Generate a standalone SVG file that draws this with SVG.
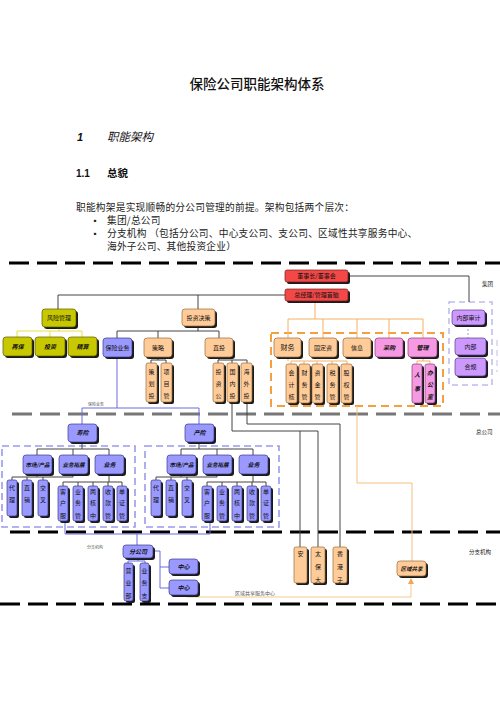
<svg xmlns="http://www.w3.org/2000/svg" width="500" height="708" viewBox="0 0 500 708">
<defs>
<marker id="arr" markerWidth="6" markerHeight="6" refX="5" refY="3" orient="auto" markerUnits="userSpaceOnUse">
<path d="M0,0 L6,3 L0,6 z" fill="#F0A850"/>
</marker>
</defs>
<style>
text{font-family:"Noto Sans CJK SC","Liberation Sans",sans-serif;fill:#111}
.body{font-size:9.7px;letter-spacing:0.25px;fill:#222}
.t{font-size:6px;text-anchor:middle}
.ti{font-size:6px;text-anchor:middle;font-style:italic;font-weight:bold}
.v{font-size:6px;text-anchor:middle}
.vi{font-size:6px;text-anchor:middle;font-style:italic;font-weight:bold}
.tiny{font-size:4px;fill:#555}
.side{font-size:5.5px;fill:#222}
.sh{fill:#1a1a1a}
.red{fill:#F24848;stroke:#7a1a1a;stroke-width:0.7}
.olv{fill:#C8C800;stroke:#5a5a00;stroke-width:0.7}
.pch{fill:#FFCC99;stroke:#9a6a3a;stroke-width:0.7}
.pur{fill:#9999FF;stroke:#3a3a8a;stroke-width:0.7}
.pnk{fill:#F59AE2;stroke:#8a3a7a;stroke-width:0.7}
.lav{fill:#CC99FF;stroke:#5a3a8a;stroke-width:0.7}
.sepB{stroke:#000;stroke-width:3;stroke-dasharray:20 8;fill:none}
.sepG{stroke:#777;stroke-width:3;stroke-dasharray:20 8;fill:none}
.c{stroke:#444;stroke-width:1;fill:none}
.cy{stroke:#E6E040;stroke-width:1;fill:none}
.co{stroke:#F5B060;stroke-width:1;fill:none}
.cp{stroke:#6A6AE0;stroke-width:1;fill:none}
.dbP{stroke:#9A9AEE;stroke-width:1.6;stroke-dasharray:7 4;fill:none}
.dbO{stroke:#F5A040;stroke-width:2;stroke-dasharray:8 5;fill:none}
.dbL{stroke:#BDBDF0;stroke-width:1.6;stroke-dasharray:6 4;fill:none}
</style>

<g id="header">
<text x="257" y="89" style="font-size:13.5px;text-anchor:middle;font-weight:500">保险公司职能架构体系</text>
<text x="77" y="141" style="font-family:'Liberation Sans',sans-serif;font-size:11px;font-weight:bold;font-style:italic">1</text>
<text x="107" y="141" style="font-size:11.5px;font-style:italic">职能架构</text>
<text x="76" y="177" style="font-family:'Liberation Sans',sans-serif;font-size:10px;font-weight:bold">1.1</text>
<text x="107" y="177" style="font-size:10.5px;font-weight:bold">总貌</text>
<text x="76" y="210.5" class="body">职能构架是实现顺畅的分公司管理的前提。架构包括两个层次：</text>
<text x="91" y="224" class="body" style="font-size:8px">▪</text>
<text x="107" y="224" class="body">集团/总公司</text>
<text x="91" y="237" class="body" style="font-size:8px">▪</text>
<text x="107" y="237" class="body">分支机构 （包括分公司、中心支公司、支公司、区域性共享服务中心、</text>
<text x="107" y="250" class="body">海外子公司、其他投资企业）</text>
</g>

<g id="separators">
<line x1="9" y1="263" x2="500" y2="263" class="sepB"/>
<line x1="12" y1="414" x2="500" y2="414" class="sepG"/>
<line x1="10" y1="532" x2="500" y2="532" class="sepB"/>
<line x1="0" y1="604" x2="500" y2="604" class="sepB"/>
<text x="482" y="286" class="side">集团</text>
<text x="476" y="434" class="side">总公司</text>
<text x="469" y="554" class="side">分支机构</text>
</g>

<g id="containers">
<rect x="271" y="333" width="172" height="73" class="dbO"/>
<rect x="449" y="302" width="43" height="83" class="dbL"/>
<line x1="497" y1="340" x2="497" y2="372" class="dbL" style="stroke-width:1"/>
<rect x="2" y="446" width="133" height="81" class="dbP"/>
<rect x="145" y="446" width="134" height="81" class="dbP"/>
</g>

<g id="connectors">
<polyline points="348,276 469,276 469,302" class="c"/>
<polyline points="285,295 58,295 58,309" class="c"/>
<line x1="198" y1="295" x2="198" y2="309" class="c"/>
<polyline points="59,327 59,331" class="cy"/>
<polyline points="17,331 82,331" class="cy"/>
<line x1="17" y1="331" x2="17" y2="337" class="cy"/>
<line x1="50" y1="331" x2="50" y2="337" class="cy"/>
<line x1="82" y1="331" x2="82" y2="337" class="cy"/>
<line x1="198" y1="326" x2="198" y2="331" class="c"/>
<line x1="117" y1="331" x2="219" y2="331" class="c"/>
<line x1="117" y1="331" x2="117" y2="338" class="c"/>
<line x1="158" y1="331" x2="158" y2="338" class="c"/>
<line x1="219" y1="331" x2="219" y2="338" class="c"/>
<line x1="158" y1="357" x2="158" y2="360" class="c"/>
<line x1="151" y1="360" x2="166" y2="360" class="c"/>
<line x1="151" y1="360" x2="151" y2="363" class="c"/>
<line x1="166" y1="360" x2="166" y2="363" class="c"/>
<line x1="219" y1="357" x2="219" y2="360" class="c"/>
<line x1="218" y1="360" x2="247" y2="360" class="c"/>
<line x1="218" y1="360" x2="218" y2="363" class="c"/>
<line x1="232" y1="360" x2="232" y2="363" class="c"/>
<line x1="247" y1="360" x2="247" y2="363" class="c"/>
<polyline points="232,402 232,431 318,431 318,547" class="c"/>
<line x1="300" y1="431" x2="300" y2="547" class="c"/>
<polyline points="247,402 247,424 340,424 340,547" class="c"/>
<line x1="315" y1="301" x2="315" y2="319" class="co"/>
<line x1="288" y1="319" x2="423" y2="319" class="co"/>
<line x1="288" y1="319" x2="288" y2="338" class="co"/>
<line x1="323" y1="319" x2="323" y2="338" class="co"/>
<line x1="357" y1="319" x2="357" y2="338" class="co"/>
<line x1="389" y1="319" x2="389" y2="338" class="co"/>
<line x1="423" y1="319" x2="423" y2="338" class="co"/>
<line x1="288" y1="357" x2="288" y2="361" class="co"/>
<line x1="291" y1="361" x2="347" y2="361" class="co"/>
<line x1="291" y1="361" x2="291" y2="364" class="co"/>
<line x1="304" y1="361" x2="304" y2="364" class="co"/>
<line x1="317" y1="361" x2="317" y2="364" class="co"/>
<line x1="332" y1="361" x2="332" y2="364" class="co"/>
<line x1="347" y1="361" x2="347" y2="364" class="co"/>
<line x1="423" y1="357" x2="423" y2="361" class="co"/>
<line x1="417" y1="361" x2="430" y2="361" class="co"/>
<line x1="417" y1="361" x2="417" y2="364" class="co"/>
<line x1="430" y1="361" x2="430" y2="364" class="co"/>
<line x1="468" y1="325" x2="468" y2="338" class="dbP" style="stroke-width:1;stroke-dasharray:2 2"/>
<polyline points="357,406 357,483 412,483 412,561" class="co" style="stroke:#F5C080"/>
<polyline points="187,597 411,597 411,579" class="co" style="stroke:#F5C890" marker-end="url(#arr)"/>
<line x1="117" y1="357" x2="117" y2="408" class="cp"/>
<line x1="82" y1="408" x2="199" y2="408" class="cp"/>
<line x1="82" y1="408" x2="82" y2="424" class="cp"/>
<line x1="199" y1="408" x2="199" y2="424" class="cp"/>
<line x1="82" y1="442" x2="82" y2="449" class="c"/>
<line x1="37" y1="449" x2="109" y2="449" class="c"/>
<line x1="37" y1="449" x2="37" y2="455" class="c"/>
<line x1="73" y1="449" x2="73" y2="455" class="c"/>
<line x1="109" y1="449" x2="109" y2="455" class="c"/>
<line x1="37" y1="474" x2="37" y2="477" class="c"/>
<line x1="12" y1="477" x2="73" y2="477" class="c"/>
<line x1="73" y1="474" x2="73" y2="477" class="c"/>
<line x1="12" y1="477" x2="12" y2="480" class="c"/>
<line x1="27" y1="477" x2="27" y2="480" class="c"/>
<line x1="43" y1="477" x2="43" y2="480" class="c"/>
<line x1="109" y1="474" x2="109" y2="482" class="c"/>
<line x1="63" y1="482" x2="122" y2="482" class="c"/>
<line x1="63" y1="482" x2="63" y2="486" class="c"/>
<line x1="78" y1="482" x2="78" y2="486" class="c"/>
<line x1="93" y1="482" x2="93" y2="486" class="c"/>
<line x1="108" y1="482" x2="108" y2="486" class="c"/>
<line x1="122" y1="482" x2="122" y2="486" class="c"/>
<line x1="199" y1="442" x2="199" y2="449" class="c"/>
<line x1="181" y1="449" x2="253" y2="449" class="c"/>
<line x1="181" y1="449" x2="181" y2="455" class="c"/>
<line x1="217" y1="449" x2="217" y2="455" class="c"/>
<line x1="253" y1="449" x2="253" y2="455" class="c"/>
<line x1="181" y1="474" x2="181" y2="477" class="c"/>
<line x1="156" y1="477" x2="217" y2="477" class="c"/>
<line x1="217" y1="474" x2="217" y2="477" class="c"/>
<line x1="156" y1="477" x2="156" y2="480" class="c"/>
<line x1="171" y1="477" x2="171" y2="480" class="c"/>
<line x1="187" y1="477" x2="187" y2="480" class="c"/>
<line x1="253" y1="474" x2="253" y2="482" class="c"/>
<line x1="207" y1="482" x2="266" y2="482" class="c"/>
<line x1="207" y1="482" x2="207" y2="486" class="c"/>
<line x1="222" y1="482" x2="222" y2="486" class="c"/>
<line x1="237" y1="482" x2="237" y2="486" class="c"/>
<line x1="252" y1="482" x2="252" y2="486" class="c"/>
<line x1="266" y1="482" x2="266" y2="486" class="c"/>
<polyline points="65,521 65,534 210,534 210,521" class="cp"/>
<line x1="137" y1="534" x2="137" y2="545" class="cp"/>
<line x1="138" y1="558" x2="138" y2="561" class="cp"/>
<line x1="128" y1="561" x2="145" y2="561" class="cp"/>
<line x1="128" y1="561" x2="128" y2="563" class="cp"/>
<line x1="145" y1="561" x2="145" y2="563" class="cp"/>
<polyline points="153,551 160,551 160,588 169,588" class="cp"/>
<line x1="160" y1="567" x2="169" y2="567" class="cp"/>
<text x="88" y="406" class="tiny">保险业务</text>
<text x="87" y="549" class="tiny">分支机构</text>
<text x="235" y="594.5" class="tiny" style="font-size:5px">区域共享服务中心</text>
</g>

<g id="n-dsh"><rect class="sh" x="287" y="272" width="63" height="12" rx="2"/><rect class="red" x="285" y="270" width="63" height="12" rx="2"/><text class="t" x="316.5" y="278.2">董事长/董事会</text></g>
<g id="n-zjl"><rect class="sh" x="287" y="291" width="63" height="12" rx="2"/><rect class="red" x="285" y="289" width="63" height="12" rx="2"/><text class="t" x="316.5" y="297.2">总经理/管理首脑</text></g>

<g id="n-fxgl"><rect class="sh" x="44" y="311" width="34" height="18" rx="3"/><rect class="olv" x="42" y="309" width="34" height="18" rx="3"/><text class="t" x="59" y="320.2">风险管理</text></g>
<g id="n-zb"><rect class="sh" x="5" y="339" width="29" height="19" rx="3"/><rect class="olv" x="3" y="337" width="29" height="19" rx="3"/><text class="ti" x="17.5" y="348.7">再保</text></g>
<g id="n-tz"><rect class="sh" x="37" y="339" width="30" height="19" rx="3"/><rect class="olv" x="35" y="337" width="30" height="19" rx="3"/><text class="ti" x="50" y="348.7">投资</text></g>
<g id="n-js"><rect class="sh" x="70" y="339" width="29" height="19" rx="3"/><rect class="olv" x="68" y="337" width="29" height="19" rx="3"/><text class="ti" x="82.5" y="348.7">精算</text></g>

<g id="n-tzjc"><rect class="sh" x="184" y="311" width="33" height="17" rx="3"/><rect class="pch" x="182" y="309" width="33" height="17" rx="3"/><text class="t" x="198.5" y="319.7">投资决策</text></g>
<g id="n-bxyw"><rect class="sh" x="105" y="340" width="29" height="19" rx="3"/><rect class="pur" x="103" y="338" width="29" height="19" rx="3"/><text class="t" x="117.5" y="349.7">保险业务</text></g>
<g id="n-cl"><rect class="sh" x="146" y="340" width="28" height="19" rx="3"/><rect class="pch" x="144" y="338" width="28" height="19" rx="3"/><text class="t" x="158" y="349.7">策略</text></g>
<g id="n-zt"><rect class="sh" x="207" y="340" width="28" height="19" rx="3"/><rect class="pch" x="205" y="338" width="28" height="19" rx="3"/><text class="t" x="219" y="349.7">直投</text></g>

<g id="n-chtz"><rect class="sh" x="148" y="365" width="11" height="39" rx="2"/><rect class="pch" x="146" y="363" width="11" height="39" rx="2"/><text class="v" x="151.5" y="374">策</text><text class="v" x="151.5" y="386">划</text><text class="v" x="151.5" y="398">投</text></g>
<g id="n-xmg"><rect class="sh" x="163" y="365" width="11" height="39" rx="2"/><rect class="pch" x="161" y="363" width="11" height="39" rx="2"/><text class="v" x="166.5" y="374">项</text><text class="v" x="166.5" y="386">目</text><text class="v" x="166.5" y="398">管</text></g>
<g id="n-tzg"><rect class="sh" x="215" y="365" width="11" height="39" rx="2"/><rect class="pch" x="213" y="363" width="11" height="39" rx="2"/><text class="v" x="218.5" y="374">投</text><text class="v" x="218.5" y="386">资</text><text class="v" x="218.5" y="398">公</text></g>
<g id="n-gnt"><rect class="sh" x="229" y="365" width="11" height="39" rx="2"/><rect class="pch" x="227" y="363" width="11" height="39" rx="2"/><text class="v" x="232.5" y="374">国</text><text class="v" x="232.5" y="386">内</text><text class="v" x="232.5" y="398">投</text></g>
<g id="n-hwt"><rect class="sh" x="243" y="365" width="11" height="39" rx="2"/><rect class="pch" x="241" y="363" width="11" height="39" rx="2"/><text class="v" x="246.5" y="374">海</text><text class="v" x="246.5" y="386">外</text><text class="v" x="246.5" y="398">投</text></g>

<g id="n-cw"><rect class="sh" x="276" y="340" width="27" height="19" rx="3"/><rect class="pch" x="274" y="338" width="27" height="19" rx="3"/><text class="t" x="287.5" y="350" style="font-size:7px">财务</text></g>
<g id="n-gdz"><rect class="sh" x="311" y="340" width="28" height="19" rx="3"/><rect class="pch" x="309" y="338" width="28" height="19" rx="3"/><text class="t" x="323" y="349.7">固定资</text></g>
<g id="n-xx"><rect class="sh" x="345" y="340" width="28" height="19" rx="3"/><rect class="pch" x="343" y="338" width="28" height="19" rx="3"/><text class="t" x="357" y="349.7">信息</text></g>
<g id="n-cg"><rect class="sh" x="377" y="340" width="28" height="19" rx="3"/><rect class="pnk" x="375" y="338" width="28" height="19" rx="3"/><text class="ti" x="389" y="349.7">采购</text></g>
<g id="n-gl"><rect class="sh" x="410" y="340" width="29" height="19" rx="3"/><rect class="pnk" x="408" y="338" width="29" height="19" rx="3"/><text class="ti" x="422.5" y="349.7">管理</text></g>

<g id="n-kjh"><rect class="sh" x="288" y="366" width="11" height="39" rx="2"/><rect class="pch" x="286" y="364" width="11" height="39" rx="2"/><text class="v" x="291.5" y="375">会</text><text class="v" x="291.5" y="387">计</text><text class="v" x="291.5" y="399">核</text></g>
<g id="n-cwg"><rect class="sh" x="301" y="366" width="11" height="39" rx="2"/><rect class="pch" x="299" y="364" width="11" height="39" rx="2"/><text class="v" x="304.5" y="375">财</text><text class="v" x="304.5" y="387">务</text><text class="v" x="304.5" y="399">管</text></g>
<g id="n-zjg"><rect class="sh" x="314" y="366" width="11" height="39" rx="2"/><rect class="pch" x="312" y="364" width="11" height="39" rx="2"/><text class="v" x="317.5" y="375">资</text><text class="v" x="317.5" y="387">金</text><text class="v" x="317.5" y="399">管</text></g>
<g id="n-swg"><rect class="sh" x="329" y="366" width="11" height="39" rx="2"/><rect class="pch" x="327" y="364" width="11" height="39" rx="2"/><text class="v" x="332.5" y="375">税</text><text class="v" x="332.5" y="387">务</text><text class="v" x="332.5" y="399">管</text></g>
<g id="n-gqg"><rect class="sh" x="343" y="366" width="11" height="39" rx="2"/><rect class="pch" x="341" y="364" width="11" height="39" rx="2"/><text class="v" x="346.5" y="375">股</text><text class="v" x="346.5" y="387">权</text><text class="v" x="346.5" y="399">管</text></g>
<g id="n-rs"><rect class="sh" x="414" y="366" width="10" height="39" rx="2"/><rect class="pnk" x="412" y="364" width="10" height="39" rx="2"/><text class="vi" x="417" y="377">人</text><text class="vi" x="417" y="391">事</text></g>
<g id="n-bgs"><rect class="sh" x="427" y="366" width="10" height="39" rx="2"/><rect class="pnk" x="425" y="364" width="10" height="39" rx="2"/><text class="vi" x="430" y="375">办</text><text class="vi" x="430" y="387">公</text><text class="vi" x="430" y="399">室</text></g>

<g id="n-nbsj"><rect class="sh" x="454" y="312" width="33" height="15" rx="3"/><rect class="lav" x="452" y="310" width="33" height="15" rx="3"/><text class="t" x="468.5" y="319.7">内部审计</text></g>
<g id="n-nb"><rect class="sh" x="457" y="340" width="31" height="17" rx="3"/><rect class="lav" x="455" y="338" width="31" height="17" rx="3"/><text class="t" x="470.5" y="348.7">内部</text></g>
<g id="n-hg"><rect class="sh" x="457" y="360" width="31" height="18" rx="3"/><rect class="lav" x="455" y="358" width="31" height="18" rx="3"/><text class="t" x="470.5" y="369.2">合规</text></g>

<g id="n-sx"><rect class="sh" x="70" y="426" width="29" height="18" rx="3"/><rect class="pur" x="68" y="424" width="29" height="18" rx="3"/><text class="ti" x="82.5" y="435.2">寿险</text></g>
<g id="n-cx"><rect class="sh" x="187" y="426" width="29" height="18" rx="3"/><rect class="pur" x="185" y="424" width="29" height="18" rx="3"/><text class="ti" x="199.5" y="435.2">产险</text></g>

<g id="n-sc1"><rect class="sh" x="25" y="457" width="29" height="19" rx="3"/><rect class="pur" x="23" y="455" width="29" height="19" rx="3"/><text class="ti" x="37.5" y="466.7" style="font-size:5.5px">市场/产品</text></g>
<g id="n-tk1"><rect class="sh" x="61" y="457" width="29" height="19" rx="3"/><rect class="pur" x="59" y="455" width="29" height="19" rx="3"/><text class="ti" x="73.5" y="466.7" style="font-size:5.5px">业务拓展</text></g>
<g id="n-yw1"><rect class="sh" x="97" y="457" width="29" height="19" rx="3"/><rect class="pur" x="95" y="455" width="29" height="19" rx="3"/><text class="ti" x="109.5" y="466.7">业务</text></g>
<g id="n-sc2"><rect class="sh" x="169" y="457" width="29" height="19" rx="3"/><rect class="pur" x="167" y="455" width="29" height="19" rx="3"/><text class="ti" x="181.5" y="466.7" style="font-size:5.5px">市场/产品</text></g>
<g id="n-tk2"><rect class="sh" x="205" y="457" width="29" height="19" rx="3"/><rect class="pur" x="203" y="455" width="29" height="19" rx="3"/><text class="ti" x="217.5" y="466.7" style="font-size:5.5px">业务拓展</text></g>
<g id="n-yw2"><rect class="sh" x="241" y="457" width="29" height="19" rx="3"/><rect class="pur" x="239" y="455" width="29" height="19" rx="3"/><text class="ti" x="253.5" y="466.7">业务</text></g>

<g id="n-dl1"><rect class="sh" x="9" y="482" width="10" height="36" rx="2"/><rect class="pur" x="7" y="480" width="10" height="36" rx="2"/><text class="v" x="12" y="490">代</text><text class="v" x="12" y="502">理</text></g>
<g id="n-zx1"><rect class="sh" x="24" y="482" width="10" height="36" rx="2"/><rect class="pur" x="22" y="480" width="10" height="36" rx="2"/><text class="v" x="27" y="490">直</text><text class="v" x="27" y="502">销</text></g>
<g id="n-jc1"><rect class="sh" x="40" y="482" width="10" height="36" rx="2"/><rect class="pur" x="38" y="480" width="10" height="36" rx="2"/><text class="v" x="43" y="490">交</text><text class="v" x="43" y="502">叉</text></g>
<g id="n-kh1"><rect class="sh" x="60" y="488" width="10" height="35" rx="2"/><rect class="pur" x="58" y="486" width="10" height="35" rx="2"/><text class="v" x="63" y="494">客</text><text class="v" x="63" y="505">户</text><text class="v" x="63" y="518">服</text></g>
<g id="n-ywg1"><rect class="sh" x="75" y="488" width="10" height="35" rx="2"/><rect class="pur" x="73" y="486" width="10" height="35" rx="2"/><text class="v" x="78" y="494">业</text><text class="v" x="78" y="505">务</text><text class="v" x="78" y="518">管</text></g>
<g id="n-lh1"><rect class="sh" x="90" y="488" width="10" height="35" rx="2"/><rect class="pur" x="88" y="486" width="10" height="35" rx="2"/><text class="v" x="93" y="494">两</text><text class="v" x="93" y="505">核</text><text class="v" x="93" y="518">中</text></g>
<g id="n-sk1"><rect class="sh" x="105" y="488" width="10" height="35" rx="2"/><rect class="pur" x="103" y="486" width="10" height="35" rx="2"/><text class="v" x="108" y="494">收</text><text class="v" x="108" y="505">款</text><text class="v" x="108" y="518">管</text></g>
<g id="n-dz1"><rect class="sh" x="119" y="488" width="10" height="35" rx="2"/><rect class="pur" x="117" y="486" width="10" height="35" rx="2"/><text class="v" x="122" y="494">单</text><text class="v" x="122" y="505">证</text><text class="v" x="122" y="518">管</text></g>

<g id="n-dl2"><rect class="sh" x="153" y="482" width="10" height="36" rx="2"/><rect class="pur" x="151" y="480" width="10" height="36" rx="2"/><text class="v" x="156" y="490">代</text><text class="v" x="156" y="502">理</text></g>
<g id="n-zx2"><rect class="sh" x="168" y="482" width="10" height="36" rx="2"/><rect class="pur" x="166" y="480" width="10" height="36" rx="2"/><text class="v" x="171" y="490">直</text><text class="v" x="171" y="502">销</text></g>
<g id="n-jc2"><rect class="sh" x="184" y="482" width="10" height="36" rx="2"/><rect class="pur" x="182" y="480" width="10" height="36" rx="2"/><text class="v" x="187" y="490">交</text><text class="v" x="187" y="502">叉</text></g>
<g id="n-kh2"><rect class="sh" x="204" y="488" width="10" height="35" rx="2"/><rect class="pur" x="202" y="486" width="10" height="35" rx="2"/><text class="v" x="207" y="494">客</text><text class="v" x="207" y="505">户</text><text class="v" x="207" y="518">服</text></g>
<g id="n-ywg2"><rect class="sh" x="219" y="488" width="10" height="35" rx="2"/><rect class="pur" x="217" y="486" width="10" height="35" rx="2"/><text class="v" x="222" y="494">业</text><text class="v" x="222" y="505">务</text><text class="v" x="222" y="518">管</text></g>
<g id="n-lh2"><rect class="sh" x="234" y="488" width="10" height="35" rx="2"/><rect class="pur" x="232" y="486" width="10" height="35" rx="2"/><text class="v" x="237" y="494">两</text><text class="v" x="237" y="505">核</text><text class="v" x="237" y="518">中</text></g>
<g id="n-sk2"><rect class="sh" x="249" y="488" width="10" height="35" rx="2"/><rect class="pur" x="247" y="486" width="10" height="35" rx="2"/><text class="v" x="252" y="494">收</text><text class="v" x="252" y="505">款</text><text class="v" x="252" y="518">管</text></g>
<g id="n-dz2"><rect class="sh" x="263" y="488" width="10" height="35" rx="2"/><rect class="pur" x="261" y="486" width="10" height="35" rx="2"/><text class="v" x="266" y="494">单</text><text class="v" x="266" y="505">证</text><text class="v" x="266" y="518">管</text></g>

<g id="n-fgs"><rect class="sh" x="125" y="547" width="30" height="13" rx="3"/><rect class="pur" x="123" y="545" width="30" height="13" rx="3"/><text class="ti" x="138" y="553.7">分公司</text></g>
<g id="n-yyb"><rect class="sh" x="126" y="565" width="9" height="38" rx="2"/><rect class="pur" x="124" y="563" width="9" height="38" rx="2"/><text class="v" x="128.5" y="573">营</text><text class="v" x="128.5" y="585">业</text><text class="v" x="128.5" y="598">部</text></g>
<g id="n-ywz"><rect class="sh" x="142" y="565" width="9" height="38" rx="2"/><rect class="pur" x="140" y="563" width="9" height="38" rx="2"/><text class="v" x="144.5" y="573">业</text><text class="v" x="144.5" y="585">务</text><text class="v" x="144.5" y="598">支</text></g>
<g id="n-zx-a"><rect class="sh" x="171" y="561" width="29" height="15" rx="3"/><rect class="pur" x="169" y="559" width="29" height="15" rx="3"/><text class="ti" x="183.5" y="568.7">中心</text></g>
<g id="n-zx-b"><rect class="sh" x="171" y="582" width="29" height="15" rx="3"/><rect class="pur" x="169" y="580" width="29" height="15" rx="3"/><text class="ti" x="183.5" y="589.7">中心</text></g>

<g id="n-an"><rect class="sh" x="296" y="549" width="13" height="36" rx="2"/><rect class="pch" x="294" y="547" width="13" height="36" rx="2"/><text class="v" x="300.5" y="556">安</text></g>
<g id="n-tb"><rect class="sh" x="313" y="549" width="14" height="36" rx="2"/><rect class="pch" x="311" y="547" width="14" height="36" rx="2"/><text class="v" x="318" y="556">太</text><text class="v" x="318" y="569">保</text><text class="v" x="318" y="582">大</text></g>
<g id="n-xg"><rect class="sh" x="335" y="549" width="14" height="36" rx="2"/><rect class="pch" x="333" y="547" width="14" height="36" rx="2"/><text class="v" x="340" y="556">香</text><text class="v" x="340" y="569">港</text><text class="v" x="340" y="582">子</text></g>
<g id="n-qygx"><rect class="sh" x="399" y="563" width="29" height="15" rx="3"/><rect class="pch" x="397" y="561" width="29" height="15" rx="3"/><text class="ti" x="411.5" y="570.7" style="font-size:5.5px">区域共享</text></g>
</svg>
